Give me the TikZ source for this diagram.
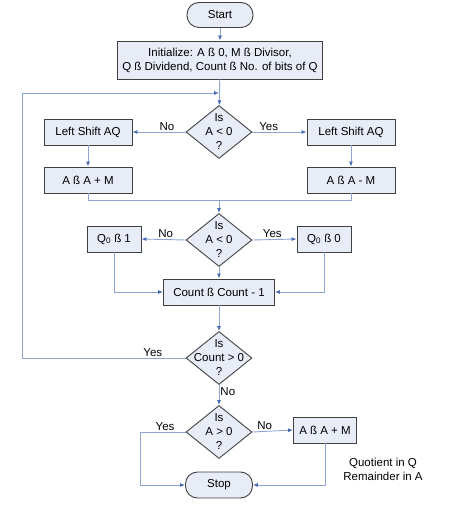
\documentclass[tikz,border=0pt]{standalone}
\usepackage{fontspec}
\setmainfont{Liberation Sans}
\usetikzlibrary{shapes.geometric,arrows.meta}
\definecolor{boxfill}{RGB}{232,236,246}
\definecolor{boxline}{RGB}{64,64,64}
\definecolor{flowline}{RGB}{140,165,210}
\definecolor{tipblue}{RGB}{70,105,180}
\begin{document}
\begin{tikzpicture}[x=1pt,y=-1pt,
    font=\fontsize{11.5}{14}\selectfont,
    base/.style={draw=boxline,fill=boxfill,line width=0.9pt,inner sep=0pt},
    process/.style={base,rectangle,minimum width=#1,minimum height=26pt},
    process/.default=88pt,
    terminal/.style={base,rectangle,rounded corners=12pt,minimum width=66pt,minimum height=25pt},
    decision/.style={base,diamond,minimum width=66pt,minimum height=53pt,
        label={[align=center,font=\fontsize{11.5}{14}\selectfont]center:#1}},
    arr/.style={draw=flowline,line width=0.9pt,-{Latex[length=5pt,width=4pt,color=tipblue]}},
    line/.style={draw=flowline,line width=0.9pt},
    lbl/.style={inner sep=1pt}]
\useasboundingbox (0,0) rectangle (474,518);
% nodes
\node[terminal] (start) at (220,15) {Start};
\node[process=205pt,minimum height=38pt,align=center] (init) at (220,60)
    {Initialize: A ß 0, M ß Divisor,\\Q ß Dividend, Count ß No. of bits of Q};
\node[decision={Is\\A < 0\\?}] (d1) at (219,132) {};
\node[process] (lsl) at (88,132) {Left Shift AQ};
\node[process] (lsr) at (351,132) {Left Shift AQ};
\node[process] (add) at (88,180) {A ß A + M};
\node[process] (sub) at (351,180) {A ß A - M};
\node[decision={Is\\A < 0\\?}] (d2) at (219,240) {};
\node[process=54pt] (qone) at (114,239) {Q\textsubscript{0} ß 1};
\node[process=54pt] (qzero) at (324,239) {Q\textsubscript{0} ß 0};
\node[process=111pt] (count) at (219,292) {Count ß Count - 1};
\node[decision={Is\\Count > 0\\?}] (d3) at (219,358) {};
\node[decision={Is\\A > 0\\?}] (d4) at (219,432) {};
\node[process=63pt] (fix) at (325,430) {A ß A + M};
\node[terminal,minimum width=67pt,minimum height=26pt] (stop) at (219,485) {Stop};
\node[align=center] (note) at (383,469) {Quotient in Q\\Remainder in A};
\coordinate (loopin) at (219,93);
\coordinate (merge) at (219,200);
% connectors
\draw[arr] (start) -- (init);
\draw[arr] (init) -- (d1);
\draw[arr] (d1.west) -- node[lbl,above,pos=0.35] {No} (lsl.east);
\draw[arr] (d1.east) -- node[lbl,above,pos=0.3] {Yes} (lsr.west);
\draw[arr] (lsl) -- (add);
\draw[arr] (lsr) -- (sub);
\draw[line] (add.south) |- (merge);
\draw[line] (sub.south) |- (merge);
\draw[arr] (merge) -- (d2.north);
\draw[arr] (d2.west) -- node[lbl,above,pos=0.45] {No} (qone.east);
\draw[arr] (d2.east) -- node[lbl,above,pos=0.45] {Yes} (qzero.west);
\draw[arr] (d2) -- (count);
\draw[arr] (qone.south) |- (count.west);
\draw[arr] (qzero.south) |- (count.east);
\draw[arr] (count) -- (d3);
\draw[arr] (d3.west) -- node[lbl,above,pos=0.2] {Yes} (22,358) |- (loopin);
\draw[arr] (d3.south) -- node[lbl,right,pos=0.35] {No} (d4.north);
\draw[arr] (d4.west) -- node[lbl,above,pos=0.45] {Yes} (140,432) |- (stop.west);
\draw[arr] (d4.east) -- node[lbl,above,pos=0.3] {No} (fix.west);
\draw[arr] (fix.south) |- (stop.east);
\end{tikzpicture}
\end{document}
